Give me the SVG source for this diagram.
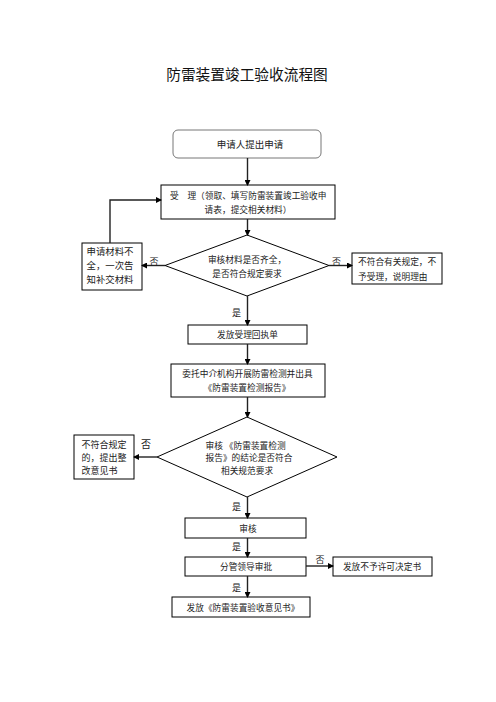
<svg xmlns="http://www.w3.org/2000/svg" width="496" height="702" viewBox="0 0 496 702">
<defs>
<style>
.t{font-family:"Noto Sans CJK SC","Liberation Sans",sans-serif;font-size:8.7px;fill:#222;}
.c{text-anchor:middle;}
.title{font-family:"Noto Sans CJK SC","Liberation Sans",sans-serif;font-size:14.7px;fill:#111;text-anchor:middle;}
.box{fill:#fff;stroke:#000;stroke-width:1;}
.rbox{fill:#fff;stroke:#777;stroke-width:1;}
.ln{fill:none;stroke:#222;stroke-width:1.4;}
.lab{font-family:"Noto Sans CJK SC","Liberation Sans",sans-serif;font-size:9px;fill:#222;}
</style>
<marker id="ah" markerWidth="6" markerHeight="6" refX="5" refY="3" orient="auto" markerUnits="userSpaceOnUse">
<path d="M0,0 L6,3 L0,6 Z" fill="#000"/>
</marker>
</defs>
<rect width="496" height="702" fill="#fff"/>
<text class="title" x="247" y="80">防雷装置竣工验收流程图</text>

<g id="n1"><rect class="rbox" x="173" y="130" width="148" height="28" rx="5"/><text class="t c" x="250" y="147.5" style="font-size:9.5px">申请人提出申请</text></g>
<g id="n2"><rect class="box" x="161" y="185" width="174" height="34"/><text class="t" x="170" y="198.5">受　理（领取、填写防雷装置竣工验收申</text><text class="t c" x="248" y="212.5">请表，提交相关材料）</text></g>
<g id="n3"><polygon class="box" points="247,235 329,265.5 247,296 165,265.5"/><text class="t c" x="247" y="262.5">审核材料是否齐全，</text><text class="t c" x="247" y="277">是否符合规定要求</text></g>
<g id="n4"><rect class="box" x="82" y="243" width="60" height="47"/><text class="t" x="86.5" y="255" style="font-size:9.4px">申请材料不</text><text class="t" x="86.5" y="269" style="font-size:9.4px">全，一次告</text><text class="t" x="86.5" y="283" style="font-size:9.4px">知补交材料</text></g>
<g id="n5"><rect class="box" x="352" y="253" width="90" height="31"/><text class="t" x="358" y="265">不符合有关规定，不</text><text class="t" x="358" y="280">予受理，说明理由</text></g>
<g id="n6"><rect class="box" x="188" y="325" width="119" height="19"/><text class="t c" x="247.5" y="338">发放受理回执单</text></g>
<g id="n7"><rect class="box" x="171" y="364" width="154" height="33"/><text class="t c" x="247.5" y="376.5">委托中介机构开展防雷检测并出具</text><text class="t c" x="247" y="391">《防雷装置检测报告》</text></g>
<g id="n8"><polygon class="box" points="247,417 337,457 247,497 157,457"/><text class="t" x="205.5" y="449">审核 《防雷装置检测</text><text class="t" x="205.5" y="461">报告》的结论是否符合</text><text class="t c" x="247" y="473.5">相关规范要求</text></g>
<g id="n9"><rect class="box" x="74" y="435" width="60" height="44"/><text class="t" x="81.5" y="448" style="font-size:9px">不符合规定</text><text class="t" x="81.5" y="461" style="font-size:9px">的，提出整</text><text class="t" x="81.5" y="474" style="font-size:9px">改意见书</text></g>
<g id="n10"><rect class="box" x="185" y="518" width="121" height="20"/><text class="t c" x="248" y="531.5">审核</text></g>
<g id="n11"><rect class="box" x="185" y="557" width="121" height="19"/><text class="t c" x="246" y="569.5">分管领导审批</text></g>
<g id="n12"><rect class="box" x="333" y="557" width="99" height="19"/><text class="t c" x="382" y="569.5">发放不予许可决定书</text></g>
<g id="n13"><rect class="box" x="172" y="597" width="138" height="20"/><text class="t c" x="243" y="611">发放《防雷装置验收意见书》</text></g>

<g id="connectors">
<line class="ln" x1="247.5" y1="158" x2="247.5" y2="185" marker-end="url(#ah)"/>
<line class="ln" x1="247.5" y1="219" x2="247.5" y2="235" marker-end="url(#ah)"/>
<line class="ln" x1="165" y1="265.5" x2="142" y2="265.5" marker-end="url(#ah)"/>
<polyline class="ln" points="110,243 110,200 161,200" marker-end="url(#ah)"/>
<line class="ln" x1="329" y1="265.5" x2="352" y2="265.5" marker-end="url(#ah)"/>
<line class="ln" x1="247.5" y1="296" x2="247.5" y2="325" marker-end="url(#ah)"/>
<line class="ln" x1="247.5" y1="344" x2="247.5" y2="364" marker-end="url(#ah)"/>
<line class="ln" x1="247.5" y1="397" x2="247.5" y2="417" marker-end="url(#ah)"/>
<line class="ln" x1="157" y1="457" x2="134" y2="457" marker-end="url(#ah)"/>
<line class="ln" x1="247.5" y1="497" x2="247.5" y2="518" marker-end="url(#ah)"/>
<line class="ln" x1="247.5" y1="538" x2="247.5" y2="557" marker-end="url(#ah)"/>
<line class="ln" x1="306" y1="566" x2="333" y2="566" marker-end="url(#ah)"/>
<line class="ln" x1="247.5" y1="576" x2="247.5" y2="597" marker-end="url(#ah)"/>
<text class="lab" x="149.5" y="264.5">否</text>
<text class="lab" x="332" y="264.5">否</text>
<text class="lab" x="232" y="316">是</text>
<text class="lab" x="141" y="448" style="font-size:10px">否</text>
<text class="lab" x="232" y="510">是</text>
<text class="lab" x="232" y="550">是</text>
<text class="lab" x="315.5" y="563">否</text>
<text class="lab" x="232" y="590.5">是</text>
</g>
</svg>
